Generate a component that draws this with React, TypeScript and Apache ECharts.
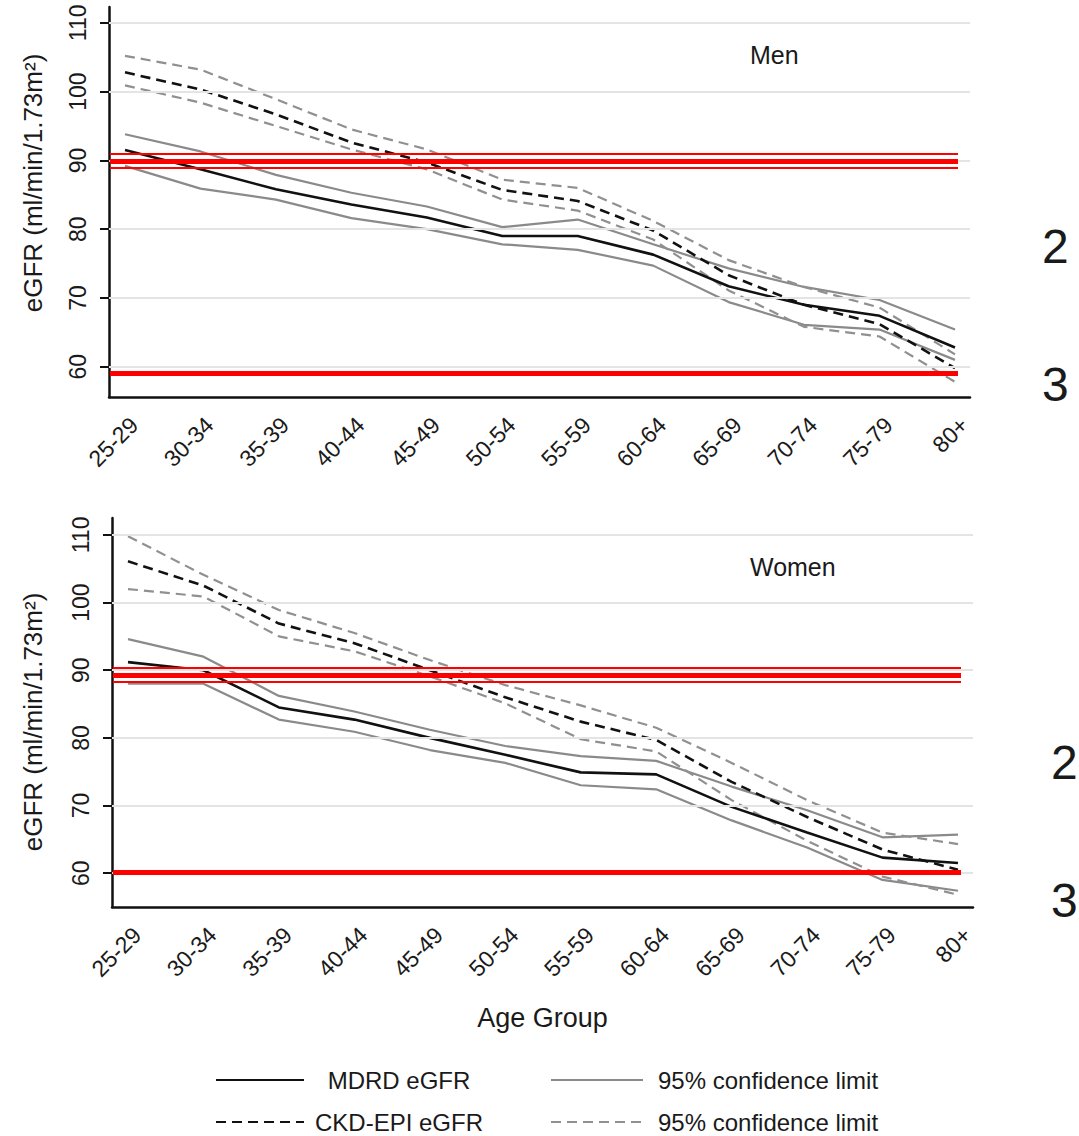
import React, { useEffect, useRef } from "react";
import * as echarts from "echarts";

const ageGroups = ["25-29", "30-34", "35-39", "40-44", "45-49", "50-54", "55-59", "60-64", "65-69", "70-74", "75-79", "80+"];
const yTicks = [60, 70, 80, 90, 100, 110];

// Men
const menMdrd = [91.5, 88.7, 85.8, 83.6, 81.7, 79.0, 79.0, 76.3, 71.7, 69.0, 67.4, 62.8];
const menMdrdUpper = [93.8, 91.3, 87.9, 85.3, 83.3, 80.3, 81.4, 77.8, 74.3, 71.6, 69.7, 65.4];
const menMdrdLower = [89.2, 85.9, 84.3, 81.6, 80.0, 77.8, 77.0, 74.7, 69.4, 66.1, 65.4, 61.0];
const menCkd = [102.8, 100.3, 96.7, 92.6, 89.7, 85.7, 84.1, 79.8, 73.3, 69.0, 66.2, 59.8];
const menCkdUpper = [105.2, 103.2, 98.9, 94.5, 91.6, 87.2, 86.0, 81.2, 75.5, 71.6, 68.6, 61.8];
const menCkdLower = [100.9, 98.4, 95.0, 91.6, 88.7, 84.3, 82.7, 78.5, 71.1, 65.8, 64.4, 57.8];
const menRedThin = [90.9, 89.0];
const menRedThick = [89.85, 59.1];

// Women
const womenMdrd = [91.2, 90.0, 84.5, 82.7, 80.0, 77.5, 74.9, 74.6, 69.8, 66.0, 62.3, 61.5];
const womenMdrdUpper = [94.6, 92.0, 86.2, 83.9, 81.2, 78.8, 77.3, 76.6, 72.8, 69.3, 65.3, 65.7];
const womenMdrdLower = [88.0, 88.0, 82.7, 80.9, 78.2, 76.3, 73.0, 72.4, 67.8, 63.8, 59.0, 57.4];
const womenCkd = [106.1, 102.5, 96.9, 94.0, 90.0, 86.0, 82.4, 79.7, 73.5, 68.3, 63.5, 60.5];
const womenCkdUpper = [109.8, 104.1, 98.9, 95.5, 91.5, 87.8, 84.8, 81.5, 76.3, 70.8, 66.0, 64.3];
const womenCkdLower = [102.0, 100.9, 95.0, 92.8, 89.1, 85.1, 79.8, 78.0, 70.8, 64.8, 59.5, 56.8];
const womenRedThin = [90.3, 88.3];
const womenRedThick = [89.2, 60.2];

const FONT = "'Liberation Sans', Arial, Helvetica, sans-serif";
const TEXT = "#1a1a1a";
const BLACK = "#111111";
const GRAY = "#8a8a8a";
const GRAY_D = "#909090";
const RED = "#ff0000";

const NAME_MDRD = "MDRD eGFR";
const NAME_CKD = "CKD-EPI eGFR";
const NAME_CI = "95% confidence limit";
const NAME_CI_D = "95% confidence limit ";

const LABEL_SHIFT = 0.12;

function toPoints(values: number[]) {
  return values.map((v, i) => [i, v]);
}

function lineSeries(name: string, values: number[], g: number, color: string, width: number, type: any, z: number) {
  return {
    type: "line",
    name,
    xAxisIndex: g,
    yAxisIndex: g,
    data: toPoints(values),
    symbol: "none",
    showSymbol: false,
    silent: true,
    z,
    itemStyle: { color },
    lineStyle: { color, width, type },
  };
}

function gridLineSeries(g: number) {
  return {
    type: "line",
    name: "grid" + g,
    xAxisIndex: g,
    yAxisIndex: g,
    data: [],
    z: 1,
    silent: true,
    markLine: {
      silent: true,
      symbol: ["none", "none"],
      label: { show: false },
      animation: false,
      lineStyle: { color: "#e4e4e4", width: 2, type: "solid" },
      data: yTicks.map((v) => ({ yAxis: v })),
    },
  };
}

function redSeries(g: number, thin: number[], thick: number[]) {
  const x0 = -0.2;
  const x1 = 11.04;
  const mk = (v: number, w: number) => [
    { coord: [x0, v], lineStyle: { width: w, color: RED, type: "solid" } },
    { coord: [x1, v] },
  ];
  return {
    type: "line",
    name: "red" + g,
    xAxisIndex: g,
    yAxisIndex: g,
    data: [],
    z: 10,
    silent: true,
    markLine: {
      silent: true,
      symbol: ["none", "none"],
      label: { show: false },
      animation: false,
      lineStyle: { color: RED, type: "solid" },
      data: [...thin.map((v) => mk(v, 2.2)), ...thick.map((v) => mk(v, 5))],
    },
  };
}

function xAxisDef(g: number, withName: boolean) {
  return {
    type: "value",
    gridIndex: g,
    min: -0.212,
    max: 11.199,
    axisLine: { show: true, onZero: false, lineStyle: { color: BLACK, width: 2.5 } },
    axisTick: { show: false },
    splitLine: { show: false },
    axisLabel: {
      customValues: ageGroups.map((_, i) => i + LABEL_SHIFT),
      formatter: (v: number) => ageGroups[Math.round(v - LABEL_SHIFT)] ?? "",
      rotate: 45,
      margin: 24,
      fontSize: 23,
      color: TEXT,
      fontFamily: FONT,
    },
    name: withName ? "Age Group" : "",
    nameLocation: "middle",
    nameGap: 97,
    nameTextStyle: { fontSize: 27, color: TEXT, fontFamily: FONT },
  };
}

function yAxisDef(g: number, min: number, max: number) {
  return {
    type: "value",
    gridIndex: g,
    min,
    max,
    axisLine: { show: true, onZero: false, lineStyle: { color: BLACK, width: 2.5 } },
    axisTick: { show: true, customValues: yTicks, length: 9, lineStyle: { color: BLACK, width: 2 } },
    splitLine: { show: false },
    axisLabel: {
      customValues: yTicks,
      rotate: 90,
      margin: 20,
      fontSize: 23,
      color: TEXT,
      fontFamily: FONT,
    },
  };
}

function sideText(text: string, x: number, y: number, size: number, rotation = 0, align = "left") {
  return {
    type: "text",
    x,
    y,
    rotation,
    silent: true,
    style: {
      text,
      fill: TEXT,
      fontSize: size,
      fontFamily: FONT,
      align,
      textAlign: align,
      verticalAlign: "middle",
      textVerticalAlign: "middle",
    },
  };
}

export default function App() {
  const ref = useRef<HTMLDivElement>(null);

  useEffect(() => {
    if (!ref.current) return;
    const chart = echarts.init(ref.current, undefined, { renderer: "svg" });

    const solid = "solid";
    const dash = [10, 6];

    const legendBase = {
      orient: "vertical",
      top: 1068,
      itemHeight: 14,
      itemGap: 18,
      padding: 0,
      selectedMode: false,
      itemStyle: { color: "rgba(0,0,0,0)", borderWidth: 0, opacity: 0 },
      formatter: (n: string) => "{a|" + n.trim() + "}",
    };

    const option: any = {
      animation: false,
      backgroundColor: "#ffffff",
      title: [
        { text: "Men", left: 745, top: 37, textStyle: { fontSize: 25, fontWeight: "normal", color: TEXT, fontFamily: FONT } },
        { text: "Women", left: 745, top: 549, textStyle: { fontSize: 25, fontWeight: "normal", color: TEXT, fontFamily: FONT } },
      ],
      grid: [
        { left: 109, top: 7, width: 861, height: 390, containLabel: false },
        { left: 112, top: 518, width: 861, height: 389, containLabel: false },
      ],
      xAxis: [xAxisDef(0, false), xAxisDef(1, true)],
      yAxis: [yAxisDef(0, 55.6, 112.3), yAxisDef(1, 55.0, 112.5)],
      legend: [
        {
          ...legendBase,
          data: [NAME_MDRD, NAME_CKD],
          left: 215,
          itemWidth: 88,
          textStyle: {
            color: TEXT,
            fontFamily: FONT,
            fontSize: 24,
            rich: { a: { width: 180, align: "center", fontSize: 24, lineHeight: 24, fontFamily: FONT, color: TEXT } },
          },
        },
        {
          ...legendBase,
          data: [NAME_CI, NAME_CI_D],
          left: 550,
          itemWidth: 92,
          textStyle: {
            color: TEXT,
            fontFamily: FONT,
            fontSize: 24,
            rich: { a: { padding: [0, 0, 0, 10], fontSize: 24, lineHeight: 24, fontFamily: FONT, color: TEXT } },
          },
        },
      ],
      graphic: [
        sideText("eGFR (ml/min/1.73m²)", 33, 183, 26, Math.PI / 2, "center"),
        sideText("eGFR (ml/min/1.73m²)", 33, 722, 26, Math.PI / 2, "center"),
        sideText("2", 1042, 246, 48),
        sideText("3", 1042, 384, 48),
        sideText("2", 1051, 762, 48),
        sideText("3", 1051, 900, 48),
      ],
      series: [
        gridLineSeries(0),
        gridLineSeries(1),
        // Men
        lineSeries(NAME_CI, menMdrdUpper, 0, GRAY, 2.2, solid, 2),
        lineSeries(NAME_CI, menMdrdLower, 0, GRAY, 2.2, solid, 2),
        lineSeries(NAME_CI_D, menCkdUpper, 0, GRAY_D, 2.2, dash, 2),
        lineSeries(NAME_CI_D, menCkdLower, 0, GRAY_D, 2.2, dash, 2),
        lineSeries(NAME_MDRD, menMdrd, 0, BLACK, 2.6, solid, 3),
        lineSeries(NAME_CKD, menCkd, 0, BLACK, 2.6, dash, 3),
        // Women
        lineSeries(NAME_CI, womenMdrdUpper, 1, GRAY, 2.2, solid, 2),
        lineSeries(NAME_CI, womenMdrdLower, 1, GRAY, 2.2, solid, 2),
        lineSeries(NAME_CI_D, womenCkdUpper, 1, GRAY_D, 2.2, dash, 2),
        lineSeries(NAME_CI_D, womenCkdLower, 1, GRAY_D, 2.2, dash, 2),
        lineSeries(NAME_MDRD, womenMdrd, 1, BLACK, 2.6, solid, 3),
        lineSeries(NAME_CKD, womenCkd, 1, BLACK, 2.6, dash, 3),
        redSeries(0, menRedThin, menRedThick),
        redSeries(1, womenRedThin, womenRedThick),
      ],
    };

    chart.setOption(option);
    return () => {
      chart.dispose();
    };
  }, []);

  return (
    <div
      ref={ref}
      style={{ position: "absolute", left: 0, top: 0, width: 1079, height: 1136, background: "#fff" }}
    />
  );
}
